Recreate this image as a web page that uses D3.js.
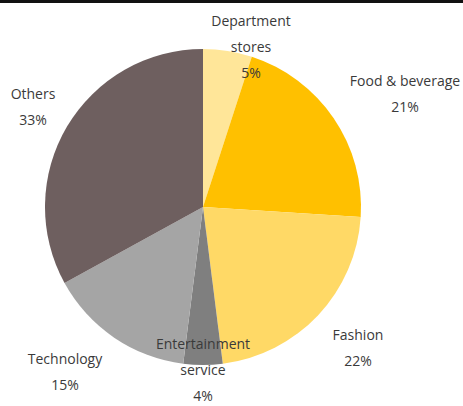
<!DOCTYPE html>
<html>
<head>
<meta charset="utf-8">
<script src="https://cdn.jsdelivr.net/npm/d3@7"></script>
<style>
  html, body { margin: 0; padding: 0; background: #fff; }
  svg { display: block; }
  text { font-family: "Open Sans", "Noto Sans", sans-serif; font-size: 14px; fill: #3a3a3a; }
</style>
</head>
<body>
<svg id="chart" width="463" height="406"></svg>
<script>
// Retail floor space by sector (share, %)
const categories = ["Department stores", "Food & beverage", "Fashion", "Entertainment service", "Technology", "Others"];
const shares = [5, 21, 22, 4, 15, 33];
const colors = ["#FFE699", "#FFC000", "#FFD966", "#7F7F7F", "#A5A5A5", "#6E5F5F"];
// Label lines per slice (name split over lines, then the share)
const labelLines = [["Department", "stores", "5%"], ["Food & beverage", "21%"], ["Fashion", "22%"],
                    ["Entertainment", "service", "4%"], ["Technology", "15%"], ["Others", "33%"]];

const svg = d3.select("#chart");
const W = 463, H = 406;
const cx = 203, cy = 207, r = 158;

// top rule
svg.append("rect").attr("x", 0).attr("y", 0).attr("width", W).attr("height", 3).attr("fill", "#111");

const pie = d3.pie().sort(null).value(d => d)(shares);
const arc = d3.arc().innerRadius(0).outerRadius(r);

const g = svg.append("g").attr("transform", `translate(${cx},${cy})`);
g.selectAll("path").data(pie).join("path")
  .attr("d", arc)
  .attr("fill", (d, i) => colors[i]);

// label block positions relative to the pie centre (first-line baseline)
const offsets = [
  [48, -181], [202, -121], [155, 133], [0, 142], [-138, 157], [-170, -108]
];
const lineH = 26;
const labels = svg.append("g");
pie.forEach((d, i) => {
  const x = cx + offsets[i][0];
  const y0 = cy + offsets[i][1];
  const t = labels.append("text").attr("text-anchor", "middle");
  labelLines[i].forEach((s, k) => {
    t.append("tspan").attr("x", x).attr("y", y0 + k * lineH).text(s);
  });
});
</script>
</body>
</html>
